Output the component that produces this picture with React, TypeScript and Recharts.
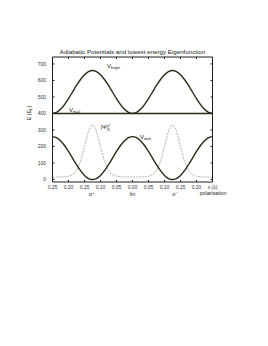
import { Line, LineChart, ReferenceLine, XAxis, YAxis } from "recharts";

// positions along the lattice, in units of the wavelength
const xPos = [
  -0.25, -0.2375, -0.225, -0.2125, -0.2, -0.1875, -0.175, -0.1625, -0.15, -0.1375, -0.125,
  -0.1125, -0.1, -0.0875, -0.075, -0.0625, -0.05, -0.0375, -0.025, -0.0125, 0,
  0.0125, 0.025, 0.0375, 0.05, 0.0625, 0.075, 0.0875, 0.1, 0.1125, 0.125,
  0.1375, 0.15, 0.1625, 0.175, 0.1875, 0.2, 0.2125, 0.225, 0.2375, 0.25,
];

const vBright = [
  400, 406, 425, 454, 490, 530, 570, 606, 635, 654, 660,
  654, 635, 606, 570, 530, 490, 454, 425, 406, 400,
  406, 425, 454, 490, 530, 570, 606, 635, 654, 660,
  654, 635, 606, 570, 530, 490, 454, 425, 406, 400,
];

const vDark = [
  260, 254, 235, 206, 170, 130, 90, 54, 25, 6, 0,
  6, 25, 54, 90, 130, 170, 206, 235, 254, 260,
  254, 235, 206, 170, 130, 90, 54, 25, 6, 0,
  6, 25, 54, 90, 130, 170, 206, 235, 254, 260,
];

// |psi_0|^2, arbitrary units on the energy scale
const psi = [
  13, 14, 15, 17, 20, 30, 55, 110, 200, 290, 330,
  290, 200, 110, 55, 30, 20, 17, 16, 15, 15,
  15, 16, 17, 20, 30, 55, 110, 200, 290, 330,
  290, 200, 110, 55, 30, 20, 17, 15, 14, 13,
];

const mZeroLevel = 400;

const xTicks = [-0.25, -0.2, -0.15, -0.1, -0.05, 0, 0.05, 0.1, 0.15, 0.2, 0.25];
const yTicks = [0, 100, 200, 300, 400, 500, 600, 700];

const data = xPos.map((x, i) => ({ x, bright: vBright[i], dark: vDark[i], psi: psi[i] }));

const FONT = "'Liberation Sans', Arial, sans-serif";
const INK = "#2b2b14";
const FRAME = "#1e1e1e";
const Y_DOMAIN: [number, number] = [-15, 742];

function fmtX(v: number) {
  if (v === 0.25) return "x (λ)";
  return Math.abs(v).toFixed(2);
}

// frame axes on top/right: tick marks only, no labels
const noLabel = () => <g />;

export default function App() {
  return (
    <div style={{ position: "absolute", left: 0, top: 0, width: 268, height: 346, background: "#fff" }}>
      <LineChart
        width={268}
        height={346}
        data={data}
        margin={{ top: 56, right: 54.5, bottom: 144, left: 0 }}
      >
        <XAxis
          xAxisId="b"
          dataKey="x"
          type="number"
          domain={[-0.25, 0.25]}
          ticks={xTicks}
          interval={0}
          tickFormatter={fmtX}
          height={20}
          axisLine={{ stroke: FRAME, strokeWidth: 1 }}
          tickLine={{ stroke: FRAME }}
          tickSize={-2}
          tickMargin={5}
          tick={{ fontSize: 5, fill: "#333", fontFamily: FONT }}
        />
        <XAxis
          xAxisId="t"
          orientation="top"
          dataKey="x"
          type="number"
          domain={[-0.25, 0.25]}
          ticks={xTicks}
          interval={0}
          height={1}
          axisLine={{ stroke: FRAME, strokeWidth: 1 }}
          tickLine={{ stroke: FRAME }}
          tickSize={-2}
          tick={noLabel}
        />
        <YAxis
          yAxisId="l"
          type="number"
          domain={Y_DOMAIN}
          allowDataOverflow
          ticks={yTicks}
          interval={0}
          width={52.5}
          axisLine={{ stroke: FRAME, strokeWidth: 1 }}
          tickLine={{ stroke: FRAME }}
          tickSize={-2}
          tickMargin={8.5}
          tick={{ fontSize: 5, fill: "#333", fontFamily: FONT }}
        />
        <YAxis
          yAxisId="r"
          orientation="right"
          type="number"
          domain={Y_DOMAIN}
          allowDataOverflow
          ticks={yTicks}
          interval={0}
          width={1}
          axisLine={{ stroke: FRAME, strokeWidth: 1 }}
          tickLine={{ stroke: FRAME }}
          tickSize={-2}
          tick={noLabel}
        />
        {/* invisible series so the top and right frame axes are in use */}
        <Line
          xAxisId="t"
          yAxisId="r"
          type="monotone"
          dataKey="dark"
          stroke="none"
          dot={false}
          legendType="none"
          isAnimationActive={false}
        />
        <Line
          xAxisId="b"
          yAxisId="l"
          type="monotone"
          dataKey="psi"
          stroke="#9a9a9a"
          strokeWidth={0.8}
          strokeDasharray="2 1"
          dot={false}
          isAnimationActive={false}
        />
        <ReferenceLine xAxisId="b" yAxisId="l" y={mZeroLevel} stroke={INK} strokeWidth={1.4} />
        <Line
          xAxisId="b"
          yAxisId="l"
          type="monotone"
          dataKey="bright"
          stroke={INK}
          strokeWidth={1.4}
          dot={false}
          isAnimationActive={false}
        />
        <Line
          xAxisId="b"
          yAxisId="l"
          type="monotone"
          dataKey="dark"
          stroke={INK}
          strokeWidth={1.4}
          dot={false}
          isAnimationActive={false}
        />
      </LineChart>
      <svg
        width={268}
        height={346}
        style={{ position: "absolute", left: 0, top: 0, pointerEvents: "none" }}
        fontFamily={FONT}
        fill="#222"
      >
        <text x={132.5} y={53.5} fontSize={6.2} textAnchor="middle">
          Adiabatic Potentials and lowest energy Eigenfunction
        </text>
        <text transform="translate(31,113) rotate(-90)" fontSize={5.5} textAnchor="middle">
          E (E<tspan fontSize={3.8} dy={1}>L</tspan><tspan dy={-1}>)</tspan>
        </text>
        <text x={107} y={68} fontSize={6}>
          V<tspan fontSize={3.6} dy={1.2}>bright</tspan>
        </text>
        <text x={69} y={111.5} fontSize={6}>
          V<tspan fontSize={3.6} dy={1.2}>m=0</tspan>
        </text>
        <text x={100.5} y={129} fontSize={5.5}>
          |Ψ|<tspan fontSize={3.5} dy={-2}>2</tspan><tspan fontSize={3.5} dx={-2} dy={4}>0</tspan>
        </text>
        <text x={140} y={139} fontSize={6}>
          V<tspan fontSize={3.6} dy={1.2}>dark</tspan>
        </text>
        <text x={91.5} y={195.5} fontSize={5.5} textAnchor="middle">
          σ<tspan fontSize={3.6} dy={-2}>+</tspan>
        </text>
        <text x={132.5} y={195.5} fontSize={5.5} textAnchor="middle">
          lin
        </text>
        <text x={175} y={195.5} fontSize={5.5} textAnchor="middle">
          σ<tspan fontSize={3.6} dy={-2}>−</tspan>
        </text>
        <text x={213} y={194.5} fontSize={5.2} textAnchor="middle">
          polarisation
        </text>
      </svg>
    </div>
  );
}
